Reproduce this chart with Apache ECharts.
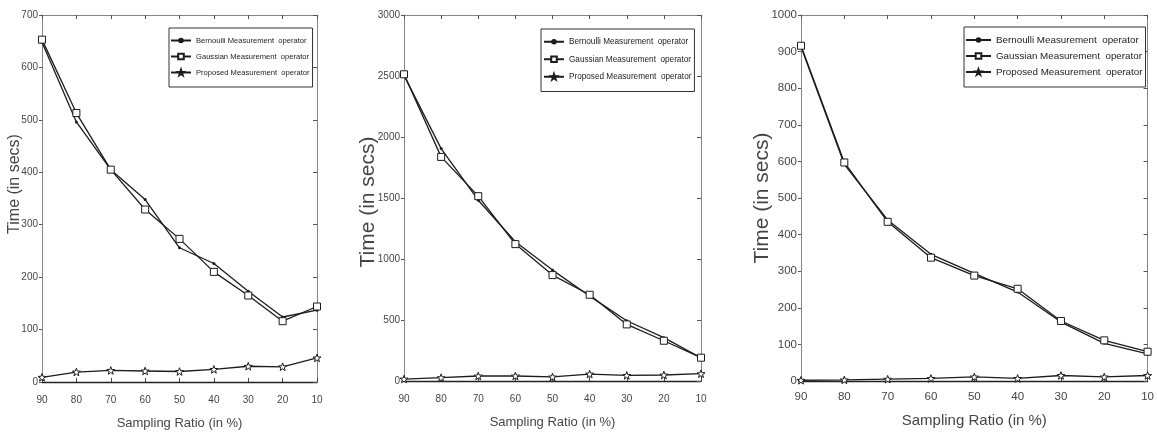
<!DOCTYPE html>
<html>
<head>
<meta charset="utf-8">
<script src="https://cdn.jsdelivr.net/npm/echarts@6/dist/echarts.min.js"></script>
<style>
html,body{margin:0;padding:0;background:#fff;}
#chart{width:1157px;height:436px;}
</style>
</head>
<body>
<div id="chart"></div>
<script>
// ---- data ----
const ratios = [90, 80, 70, 60, 50, 40, 30, 20, 10];
const seriesNames = ['Bernoulli Measurement  operator', 'Gaussian Measurement  operator', 'Proposed Measurement  operator'];
const xTitle = 'Sampling Ratio (in %)';
const yTitle = 'Time (in secs)';

const p1Bernoulli = [648, 496, 405, 348, 256, 226, 173, 124, 137];
const p1Gaussian  = [653, 513, 405, 329, 273, 210, 165, 116, 144];
const p1Proposed  = [9, 19, 22, 21, 20, 24, 30, 29, 46];

const p2Bernoulli = [2505, 1905, 1482, 1141, 909, 696, 494, 355, 191];
const p2Gaussian  = [2514, 1837, 1515, 1122, 868, 707, 464, 330, 191];
const p2Proposed  = [16, 27, 41, 41, 33, 57, 46, 49, 60];

const p3Bernoulli = [913, 592, 440, 346, 294, 243, 161, 103, 74];
const p3Gaussian  = [916, 597, 435, 337, 288, 252, 164, 111, 80];
const p3Proposed  = [2, 3, 5, 7, 11, 7, 15, 11, 15];

const yMax = [700, 3000, 1000];
const yStep = [100, 500, 100];

// ---- styling ----
const REG = "'Liberation Sans', Arial, sans-serif";
const TXT = '#454545';
const LINE = '#1c1c1c';
const STAR = 'path://M50 0 L61.76 33.82 L97.55 34.55 L69.02 56.18 L79.39 90.45 L50 70 L20.61 90.45 L30.98 56.18 L2.45 34.55 L38.24 33.82 Z';

const panels = [
  { data: [p1Bernoulli, p1Gaussian, p1Proposed],
    grid: {left: 42, right: 840, top: 15, bottom: 54},
    tickFont: 10, xMargin: 13, xNameFont: 13, xNameGap: 35,
    legend: {left: 169, top: 28, padding: [8, 3, 10, 1], itemWidth: 20, itemGap: 7, fontSize: 7.6, lineHeight: 9},
    yTitle: {x: 15, y: 184, size: 16} },
  { data: [p2Bernoulli, p2Gaussian, p2Proposed],
    grid: {left: 404, right: 456, top: 15, bottom: 55},
    tickFont: 10, xMargin: 13, xNameFont: 13, xNameGap: 35,
    legend: {left: 541, top: 29, padding: [8, 3, 10, 2], itemWidth: 20, itemGap: 8, fontSize: 8.2, lineHeight: 9.5},
    yTitle: {x: 368, y: 202, size: 21} },
  { data: [p3Bernoulli, p3Gaussian, p3Proposed],
    grid: {left: 801, right: 1, top: 15, bottom: 55},
    tickFont: 11.5, xMargin: 10, xNameFont: 15, xNameGap: 32,
    legend: {left: 964, top: 27, padding: [8, 3, 10, 1], itemWidth: 25, itemGap: 6, fontSize: 9.8, lineHeight: 10},
    yTitle: {x: 762, y: 198, size: 21} }
];

const option = {
  animation: false,
  backgroundColor: '#fff',
  grid: [], xAxis: [], yAxis: [], series: [], legend: [], graphic: []
};

panels.forEach((p, k) => {
  option.grid.push(Object.assign({containLabel: false}, p.grid));
  // bottom x axis
  option.xAxis.push({
    gridIndex: k, type: 'value', min: 10, max: 90, interval: 10, inverse: true, position: 'bottom',
    name: xTitle, nameLocation: 'middle', nameGap: p.xNameGap,
    nameTextStyle: {fontFamily: REG, fontSize: p.xNameFont, color: TXT},
    axisLine: {show: true, onZero: false, lineStyle: {color: '#222', width: 1.3}},
    axisTick: {show: true, inside: true, length: 4, lineStyle: {color: '#444'}},
    axisLabel: {fontFamily: REG, fontSize: p.tickFont, color: TXT, margin: p.xMargin, formatter: v => String(v)},
    splitLine: {show: false}
  });
  // top x axis (box)
  option.xAxis.push({
    gridIndex: k, type: 'value', min: 10, max: 90, interval: 10, inverse: true, position: 'top',
    axisLine: {show: true, onZero: false, lineStyle: {color: '#858585', width: 1}},
    axisTick: {show: true, inside: true, length: 4, lineStyle: {color: '#555'}},
    axisLabel: {show: false}, splitLine: {show: false}
  });
  // left y axis
  option.yAxis.push({
    gridIndex: k, type: 'value', min: 0, max: yMax[k], interval: yStep[k], position: 'left',
    axisLine: {show: true, onZero: false, lineStyle: {color: '#858585', width: 1}},
    axisTick: {show: true, inside: false, length: 3, lineStyle: {color: '#555'}},
    axisLabel: {fontFamily: REG, fontSize: p.tickFont, color: TXT, margin: 4, formatter: v => String(v)},
    splitLine: {show: false}
  });
  // right y axis (box)
  option.yAxis.push({
    gridIndex: k, type: 'value', min: 0, max: yMax[k], interval: yStep[k], position: 'right',
    axisLine: {show: true, onZero: false, lineStyle: {color: '#858585', width: 1}},
    axisTick: {show: true, inside: true, length: 4, lineStyle: {color: '#555'}},
    axisLabel: {show: false}, splitLine: {show: false}
  });

  const styles = [
    {symbol: 'circle', symbolSize: 3, itemStyle: {color: LINE, borderColor: LINE, borderWidth: 0}},
    {symbol: 'rect', symbolSize: 7, itemStyle: {color: '#fff', borderColor: LINE, borderWidth: 1}},
    {symbol: STAR, symbolSize: 8, itemStyle: {color: '#fff', borderColor: LINE, borderWidth: 1}}
  ];
  p.data.forEach((arr, s) => {
    option.series.push(Object.assign({
      name: seriesNames[s], type: 'line', xAxisIndex: 2 * k, yAxisIndex: 2 * k,
      data: ratios.map((r, i) => [r, arr[i]]),
      showSymbol: true, symbolKeepAspect: true, clip: false,
      lineStyle: {color: LINE, width: 1.3}, z: 3 + s
    }, styles[s]));
  });

  option.legend.push({
    orient: 'vertical', left: p.legend.left, top: p.legend.top,
    padding: p.legend.padding, itemWidth: p.legend.itemWidth, itemHeight: 7,
    itemGap: p.legend.itemGap, borderColor: '#333', borderWidth: 1, backgroundColor: '#fff',
    selectedMode: false,
    textStyle: {fontFamily: REG, fontSize: p.legend.fontSize, lineHeight: p.legend.lineHeight, color: '#222'},
    data: seriesNames
  });

  option.graphic.push({
    type: 'text', x: p.yTitle.x, y: p.yTitle.y, rotation: Math.PI / 2,
    style: {text: yTitle, fontFamily: REG, fontSize: p.yTitle.size, fill: TXT,
            textAlign: 'center', textVerticalAlign: 'middle'}
  });
});

const chart = echarts.init(document.getElementById('chart'), null, {renderer: 'canvas'});
chart.setOption(option);
</script>
</body>
</html>
